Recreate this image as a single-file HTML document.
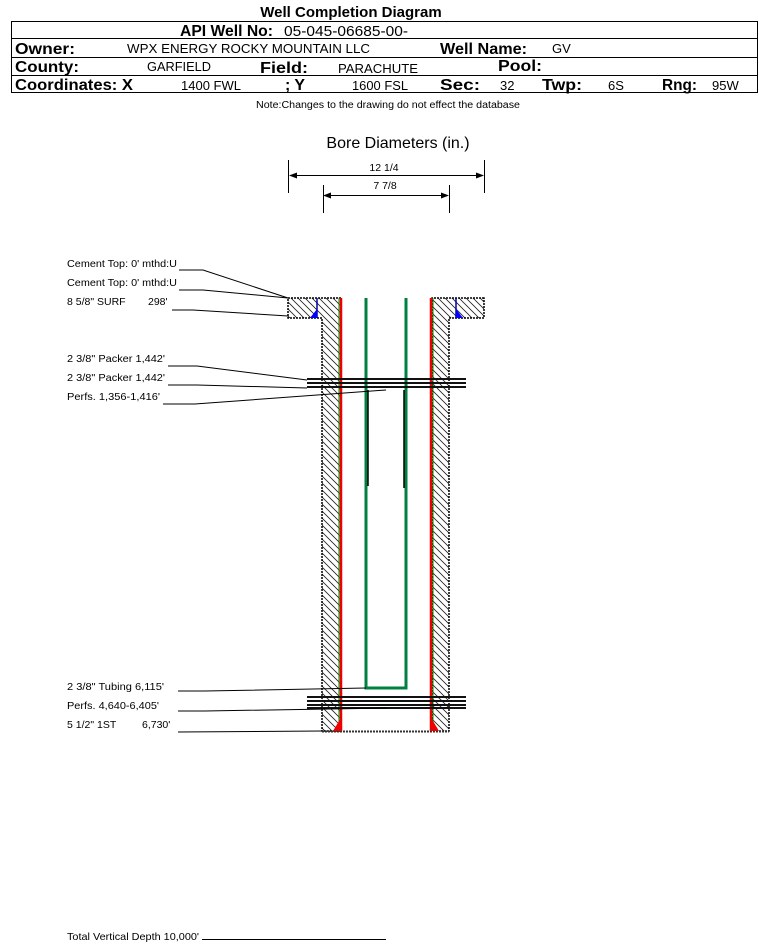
<!DOCTYPE html>
<html><head><meta charset="utf-8"><style>
body{margin:0;background:#fff;width:759px;height:943px;overflow:hidden;font-family:"Liberation Sans",sans-serif}
</style></head><body>
<svg width="759" height="943" xmlns="http://www.w3.org/2000/svg" font-family="Liberation Sans, sans-serif">
<defs>
<pattern id="h" patternUnits="userSpaceOnUse" width="7" height="7">
<rect width="7" height="7" fill="#fff"/>
<path d="M-1,-1 L8,8 M-8,-1 L1,8 M6,-1 L15,8" stroke="#222" stroke-width="0.8"/>
</pattern>
</defs>
<text x="351" y="17" font-size="15" font-weight="bold" text-anchor="middle">Well Completion Diagram</text>
<rect x="11.5" y="21.5" width="746" height="71" fill="none" stroke="#000"/>
<line x1="11" y1="38.5" x2="757" y2="38.5" stroke="#000"/>
<line x1="11" y1="57.5" x2="757" y2="57.5" stroke="#000"/>
<line x1="11" y1="75.5" x2="757" y2="75.5" stroke="#000"/>
<g font-size="16" font-weight="bold">
<text x="180" y="36" textLength="93" lengthAdjust="spacingAndGlyphs">API Well No:</text>
<text x="15" y="54" textLength="60" lengthAdjust="spacingAndGlyphs">Owner:</text>
<text x="440" y="54" textLength="87" lengthAdjust="spacingAndGlyphs">Well Name:</text>
<text x="15" y="72" textLength="64" lengthAdjust="spacingAndGlyphs">County:</text>
<text x="260" y="73" textLength="48" lengthAdjust="spacingAndGlyphs">Field:</text>
<text x="498" y="71" textLength="44" lengthAdjust="spacingAndGlyphs">Pool:</text>
<text x="15" y="90" textLength="118" lengthAdjust="spacingAndGlyphs">Coordinates: X</text>
<text x="285" y="90" textLength="20" lengthAdjust="spacingAndGlyphs">; Y</text>
<text x="440" y="90" textLength="40" lengthAdjust="spacingAndGlyphs">Sec:</text>
<text x="542" y="90" textLength="40" lengthAdjust="spacingAndGlyphs">Twp:</text>
<text x="662" y="90" textLength="35" lengthAdjust="spacingAndGlyphs">Rng:</text>
</g>
<g font-size="13">
<text x="284" y="36" font-size="14.5" textLength="124" lengthAdjust="spacingAndGlyphs">05-045-06685-00-</text>
<text x="127" y="53" textLength="243" lengthAdjust="spacingAndGlyphs">WPX ENERGY ROCKY MOUNTAIN LLC</text>
<text x="552" y="53">GV</text>
<text x="147" y="71" textLength="64" lengthAdjust="spacingAndGlyphs">GARFIELD</text>
<text x="338" y="73" textLength="80" lengthAdjust="spacingAndGlyphs">PARACHUTE</text>
<text x="181" y="90" textLength="60" lengthAdjust="spacingAndGlyphs">1400 FWL</text>
<text x="352" y="90" textLength="56" lengthAdjust="spacingAndGlyphs">1600 FSL</text>
<text x="500" y="90">32</text>
<text x="608" y="90">6S</text>
<text x="712" y="90">95W</text>
</g>
<text x="388" y="108" font-size="10" text-anchor="middle" textLength="264" lengthAdjust="spacingAndGlyphs">Note:Changes to the drawing do not effect the database</text>
<text x="398" y="148" font-size="16" text-anchor="middle">Bore Diameters (in.)</text>
<g stroke="#000" stroke-width="1">
<line x1="288.5" y1="160" x2="288.5" y2="193"/><line x1="484.5" y1="160" x2="484.5" y2="193"/>
<line x1="323.5" y1="185" x2="323.5" y2="213"/><line x1="449.5" y1="185" x2="449.5" y2="213"/>
<line x1="292" y1="175.5" x2="481" y2="175.5"/><line x1="327" y1="195.5" x2="446" y2="195.5"/>
</g>
<path d="M289,175.5 l8,-3 v6z M484,175.5 l-8,-3 v6z M323,195.5 l8,-3 v6z M449,195.5 l-8,-3 v6z" fill="#000"/>
<text x="384" y="171" font-size="10.5" text-anchor="middle">12 1/4</text>
<text x="385" y="189" font-size="10.5" text-anchor="middle">7 7/8</text>
<path d="M288,298 H341 V731 H322 V318 H288Z" fill="url(#h)" stroke="#000" stroke-dasharray="2 1" stroke-width="1.5"/>
<path d="M484,298 H432 V731 H449 V318 H484Z" fill="url(#h)" stroke="#000" stroke-dasharray="2 1" stroke-width="1.5"/>
<rect x="341" y="298" width="91" height="433" fill="#fff"/>
<line x1="322" y1="731.5" x2="449" y2="731.5" stroke="#333" stroke-width="2" stroke-dasharray="2 1"/>
<line x1="317" y1="298" x2="317" y2="318" stroke="#00a" stroke-width="1.5"/>
<path d="M317,309 L317,318 L310,318Z" fill="#00f"/>
<line x1="456" y1="298" x2="456" y2="318" stroke="#00a" stroke-width="1.5"/>
<path d="M456,309 L456,318 L463,318Z" fill="#00f"/>
<line x1="339" y1="298" x2="339" y2="731" stroke="#080" stroke-width="1"/>
<line x1="341" y1="298" x2="341" y2="731" stroke="#e00" stroke-width="2.5"/>
<line x1="433" y1="298" x2="433" y2="731" stroke="#080" stroke-width="1"/>
<line x1="431" y1="298" x2="431" y2="731" stroke="#e00" stroke-width="2.5"/>
<path d="M342,716 L342,731 L333,731Z" fill="#e00"/>
<path d="M430,716 L430,731 L439,731Z" fill="#e00"/>
<path d="M366,298 V688 H406 V298" fill="none" stroke="#008040" stroke-width="3"/>
<line x1="368" y1="390" x2="368" y2="486" stroke="#000" stroke-width="1.5"/>
<line x1="404" y1="390" x2="404" y2="488" stroke="#000" stroke-width="1.5"/>
<g stroke="#111" stroke-width="2">
<line x1="307" y1="379" x2="466" y2="379"/><line x1="307" y1="383" x2="466" y2="383"/><line x1="307" y1="387" x2="466" y2="387"/>
<line x1="307" y1="697" x2="466" y2="697"/><line x1="307" y1="701" x2="466" y2="701"/><line x1="307" y1="705" x2="466" y2="705"/><line x1="307" y1="708" x2="466" y2="708"/>
</g>
<g font-size="10.5">
<text x="67" y="267" textLength="110" lengthAdjust="spacingAndGlyphs">Cement Top: 0' mthd:U</text>
<text x="67" y="286" textLength="110" lengthAdjust="spacingAndGlyphs">Cement Top: 0' mthd:U</text>
<text x="67" y="305">8 5/8" SURF</text><text x="148" y="305">298'</text>
<text x="67" y="362" textLength="98" lengthAdjust="spacingAndGlyphs">2 3/8" Packer 1,442'</text>
<text x="67" y="381" textLength="98" lengthAdjust="spacingAndGlyphs">2 3/8" Packer 1,442'</text>
<text x="67" y="400" textLength="93" lengthAdjust="spacingAndGlyphs">Perfs. 1,356-1,416'</text>
<text x="67" y="690" textLength="97" lengthAdjust="spacingAndGlyphs">2 3/8" Tubing 6,115'</text>
<text x="67" y="709" textLength="92" lengthAdjust="spacingAndGlyphs">Perfs. 4,640-6,405'</text>
<text x="67" y="728">5 1/2" 1ST</text><text x="142" y="728">6,730'</text>
<text x="67" y="940" textLength="132" lengthAdjust="spacingAndGlyphs">Total Vertical Depth 10,000'</text>
</g>
<g stroke="#000" stroke-width="1" fill="none">
<polyline points="179,270 203,270 288,298"/>
<polyline points="179,290 203,290 288,298"/>
<polyline points="172,310 193,310 288,316"/>
<polyline points="168,366 197,366 307,380"/>
<polyline points="168,385 197,385 307,388"/>
<polyline points="163,404 195,404 386,390"/>
<polyline points="178,691 205,691 366,688"/>
<polyline points="178,711 205,711 387,708"/>
<polyline points="178,732 322,731"/>
<line x1="202" y1="939.5" x2="386" y2="939.5"/>
</g>
</svg>
</body></html>
